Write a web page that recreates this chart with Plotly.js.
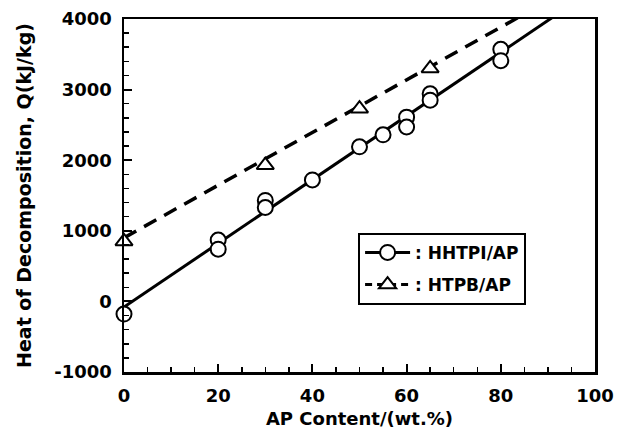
<!DOCTYPE html>
<html>
<head>
<meta charset="utf-8">
<script src="https://cdn.plot.ly/plotly-3.0.1.min.js"></script>
<style>html,body{margin:0;padding:0;background:#fff}#chart{width:617px;height:433px}</style>
</head>
<body>
<div id="chart"></div>
<script>
// HHTPI/AP measured points
const hhtpiX = [0, 20, 20, 30, 30, 40, 50, 55, 60, 60, 65, 65, 80, 80];
const hhtpiY = [-180, 870, 740, 1430, 1330, 1720, 2190, 2360, 2610, 2470, 2940, 2850, 3570, 3410];
// HTPB/AP measured points
const htpbX = [0, 30, 50, 65];
const htpbY = [850, 1930, 2730, 3300];
// fitted lines (end points)
const fitX = [0, 100];
const hhtpiFitY = [-80, 4430];
const htpbFitY = [900, 4630];
// axis ticks
const xTicks = [0, 20, 40, 60, 80, 100];
const yTicks = [-1000, 0, 1000, 2000, 3000, 4000];

const FONT = 'DejaVu Sans, Liberation Sans, Arial, sans-serif';
const mk = (sym) => ({symbol: sym, size: 15, color: '#fff', line: {color: '#000', width: 2}});

const traces = [
  {x: fitX, y: hhtpiFitY, mode: 'lines', line: {color: '#000', width: 3}, showlegend: false, hoverinfo: 'skip'},
  {x: fitX, y: htpbFitY, mode: 'lines', line: {color: '#000', width: 3.5, dash: '14px,9px'}, showlegend: false, hoverinfo: 'skip'},
  {x: hhtpiX, y: hhtpiY, mode: 'markers', marker: mk('circle'), cliponaxis: false, showlegend: false},
  {x: htpbX, y: htpbY, mode: 'markers', marker: mk('triangle-up'), cliponaxis: false, showlegend: false},
  {x: [null], y: [null], mode: 'lines+markers', name: ': HHTPI/AP', legendgroup: 'a',
   line: {color: '#000', width: 3}, marker: mk('circle')},
  {x: [null], y: [null], mode: 'lines+markers', name: ': HTPB/AP', legendgroup: 'b',
   line: {color: '#000', width: 3, dash: '7px,5px'}, marker: mk('triangle-up')}
];

const layout = {
  width: 617, height: 433,
  margin: {l: 124, r: 22, t: 19, b: 61},
  paper_bgcolor: '#fff', plot_bgcolor: '#fff',
  font: {family: FONT, size: 18, color: '#000', weight: 'bold'},
  showlegend: true,
  legend: {
    x: 0.497, y: 0.394, xanchor: 'left', yanchor: 'top',
    bordercolor: '#000', borderwidth: 2, bgcolor: '#fff',
    font: {family: FONT, size: 17, color: '#000', weight: 'bold'},
    traceorder: 'grouped', tracegroupgap: 7, itemwidth: 45
  },
  xaxis: {
    range: [0, 100], tickvals: xTicks, ticktext: xTicks.map(String),
    showgrid: false, zeroline: false,
    showline: true, linecolor: '#000', linewidth: 2.5, mirror: true,
    ticks: 'inside', ticklen: 8, tickwidth: 2, tickcolor: '#000',
    ticklabelstandoff: 6,
    minor: {dtick: 5, ticks: 'inside', ticklen: 5, tickwidth: 1.5, tickcolor: '#000', showgrid: false},
    tickfont: {family: FONT, size: 18, weight: 'bold'},
    title: {text: 'AP Content/(wt.%)', font: {family: FONT, size: 18, weight: 'bold'}, standoff: 8}
  },
  yaxis: {
    range: [-1000, 4000], tickvals: yTicks, ticktext: yTicks.map(String),
    showgrid: false, zeroline: false,
    showline: true, linecolor: '#000', linewidth: 2.5, mirror: true,
    ticks: 'inside', ticklen: 8, tickwidth: 2, tickcolor: '#000',
    ticklabelstandoff: 6,
    minor: {dtick: 200, ticks: 'inside', ticklen: 5, tickwidth: 1.5, tickcolor: '#000', showgrid: false},
    tickfont: {family: FONT, size: 18, weight: 'bold'},
    title: {text: 'Heat of Decomposition, Q(kJ/kg)', font: {family: FONT, size: 19, weight: 'bold'}, standoff: 18}
  }
};

Plotly.newPlot('chart', traces, layout, {staticPlot: true, displayModeBar: false});
</script>
</body>
</html>
